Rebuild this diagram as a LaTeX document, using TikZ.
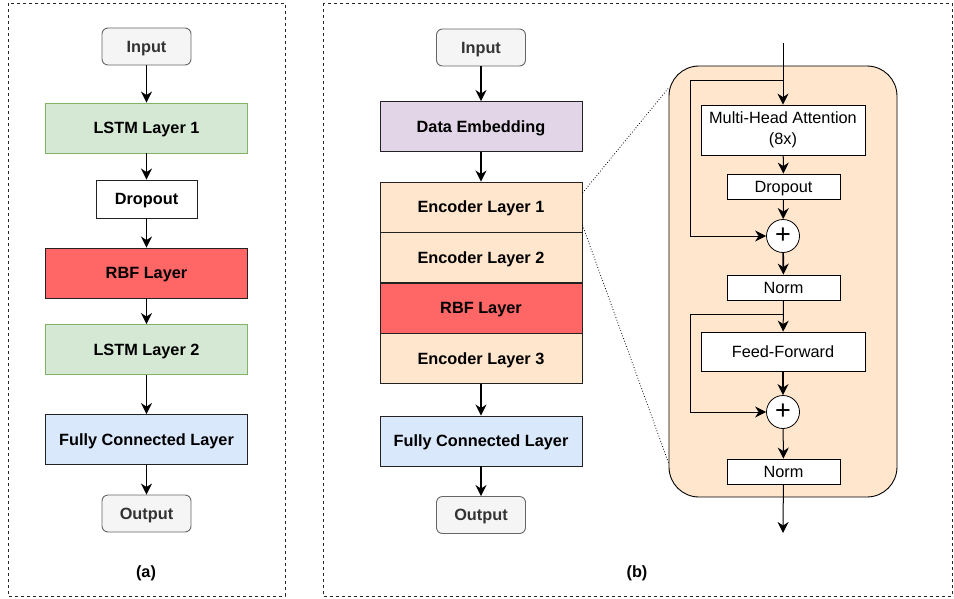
\documentclass[tikz,border=0pt]{standalone}
\usepackage{fontspec}
\setmainfont{Liberation Sans}
\usetikzlibrary{arrows.meta}
\definecolor{iofill}{HTML}{F5F5F5}
\definecolor{ioline}{HTML}{666666}
\definecolor{iotext}{HTML}{333333}
\definecolor{lstmfill}{HTML}{D5E8D4}
\definecolor{lstmline}{HTML}{82B366}
\definecolor{rbffill}{HTML}{FF6666}
\definecolor{fcfill}{HTML}{DAE8FC}
\definecolor{embfill}{HTML}{E1D5E7}
\definecolor{encfill}{HTML}{FFE6CC}
\definecolor{boxline}{HTML}{222222}

\begin{document}
\begin{tikzpicture}[x=1pt, y=-1pt, >={Stealth[length=11pt,width=11pt,inset=3.5pt]},
  box/.style={draw=boxline, line width=0.9pt, inner sep=0pt, text height=11.5pt, text depth=0pt, font=\fontsize{16.3}{19}\selectfont\bfseries},
  layer/.style={box, minimum width=202pt, minimum height=50pt},
  io/.style={box, draw=ioline, fill=iofill, text=iotext, rounded corners=6pt, minimum width=89pt, minimum height=37pt},
  sub/.style={draw=black, line width=0.8pt, fill=white, inner sep=0pt, align=center, font=\fontsize{16.3}{20.5}\selectfont},
  one/.style={sub, text height=11.5pt, text depth=0pt},
  sum/.style={draw=black, circle, fill=white, minimum size=33pt, inner sep=0pt, line width=0.8pt, font=\fontsize{27}{27}\selectfont},
  flow/.style={->, line width=1.6pt},
  thin/.style={->, line width=1pt},
  panel/.style={draw=black!85, dash pattern=on 3pt off 3pt, line width=0.8pt}]

\useasboundingbox (0,0) rectangle (954,598);

% Panels
\draw[panel] (8,3) rectangle (285,596);
\draw[panel] (323,3) rectangle (952,596);

% (a) LSTM stack
\node (inA) [io] at (146.5,46.5) {Input};
\node (lstmA) [layer, draw=lstmline, fill=lstmfill] at (146.5,128) {LSTM Layer 1};
\node (dropA) [box, fill=white, minimum width=101pt, minimum height=38pt] at (146.5,199) {Dropout};
\node (rbfA) [layer, fill=rbffill] at (146.5,273) {RBF Layer};
\node (lstmB) [layer, draw=lstmline, fill=lstmfill] at (146.5,349.5) {LSTM Layer 2};
\node (fcA) [layer, fill=fcfill] at (146.5,439.5) {Fully Connected Layer};
\node (outA) [io] at (146.5,513.5) {Output};
\node (labA) [font=\fontsize{16.3}{19}\selectfont\bfseries] at (146,573) {(a)};

\draw[flow] (inA) -- (lstmA);
\draw[flow] (lstmA) -- (dropA);
\draw[flow] (dropA) -- (rbfA);
\draw[flow] (rbfA) -- (lstmB);
\draw[flow] (lstmB) -- (fcA);
\draw[flow] (fcA) -- (outA);

% (b) encoder stack
\node (inB) [io] at (481,47.5) {Input};
\node (emb) [layer, fill=embfill] at (481,126.5) {Data Embedding};
\node (enc1) [layer, fill=encfill] at (481,207) {Encoder Layer 1};
\node (enc2) [layer, fill=encfill] at (481,257.5) {Encoder Layer 2};
\node (rbfB) [layer, fill=rbffill] at (481,308) {RBF Layer};
\node (enc3) [layer, fill=encfill] at (481,358.5) {Encoder Layer 3};
\node (fcB) [layer, fill=fcfill] at (481,441) {Fully Connected Layer};
\node (outB) [io] at (481,515) {Output};
\node (labB) [font=\fontsize{16.3}{19}\selectfont\bfseries] at (637,573) {(b)};

\draw[flow] (inB) -- (emb);
\draw[flow] (emb) -- (enc1);
\draw[flow] (enc3) -- (fcB);
\draw[flow] (fcB) -- (outB);

% encoder layer in detail
\node (block) [draw=black, line width=0.9pt, fill=encfill, rounded corners=30pt, minimum width=228pt, minimum height=431pt] at (783,281.5) {};
\draw[dotted, line width=0.8pt] ([yshift=14pt]enc1.east) -- ([yshift=193.5pt]block.west);
\draw[dotted, line width=0.8pt] ([yshift=-18pt]enc1.east) -- ([yshift=-181.5pt]block.west);

\coordinate (top) at (783,43);
\coordinate (res1) at (783,80);
\coordinate (res2) at (783,314);
\coordinate (bot) at (783,533);
\node (mha) [sub, minimum width=164pt, minimum height=50pt] at (783,130) {Multi-Head Attention\\(8x)};
\node (dropB) [one, minimum width=113pt, minimum height=25pt] at (783.5,186.5) {Dropout};
\node (sum1) [sum] at (783,236) {+};
\node (norm1) [one, minimum width=113pt, minimum height=25pt] at (783.5,287.5) {Norm};
\node (ff) [one, minimum width=164pt, minimum height=39pt] at (783,351.5) {Feed-Forward};
\node (sum2) [sum] at (783,412) {+};
\node (norm2) [one, minimum width=113pt, minimum height=25pt] at (783.5,471.5) {Norm};

\draw[thin] (top) -- (mha);
\draw[thin] (mha) -- (dropB);
\draw[thin] (dropB) -- (sum1);
\draw[thin, line width=1.6pt] (sum1) -- (norm1);
\draw[thin] (norm1) -- (ff);
\draw[thin, line width=1.6pt] (ff) -- (sum2);
\draw[thin] (sum2) -- (norm2);
\draw[thin] (norm2) -- (bot);
\draw[thin] (res1) -- (690,80) |- (sum1);
\draw[thin] (res2) -- (690,314) |- (sum2);

\end{tikzpicture}
\end{document}
